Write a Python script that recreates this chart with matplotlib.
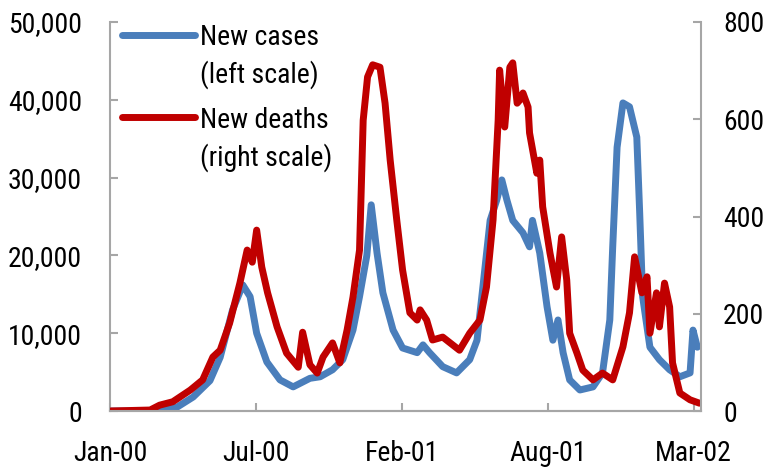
import matplotlib
matplotlib.use('Agg')
from matplotlib import pyplot as plt

# days since start of series (tick every 200 days)
CASE_DAYS = [0, 55, 68, 92, 114, 137, 151, 168, 182, 192, 201, 215, 233, 251, 274, 288,
             305, 319, 333, 342, 352, 358, 366, 374, 388, 401, 421, 429, 438, 456, 475,
             493, 503, 511, 521, 530, 537, 544, 552, 566, 575, 579, 589, 599, 607, 614,
             621, 630, 644, 662, 675, 685, 689, 695, 703, 712, 722, 726, 730, 740, 753,
             767, 781, 795, 799, 805]
CASES = [0, 0, 100, 500, 1800, 3900, 6900, 13000, 16200, 14700, 10000, 6300, 4000, 3100,
         4200, 4400, 5300, 6600, 10400, 14700, 20000, 26500, 20300, 15200, 10400, 8100,
         7500, 8500, 7500, 5700, 4900, 6600, 9100, 15900, 24500, 27100, 29700, 27100,
         24500, 22900, 21100, 24500, 20300, 13400, 9100, 11700, 7500, 4000, 2700, 3100,
         4900, 11700, 21100, 33900, 39600, 39100, 35200, 25400, 14700, 8200, 6600, 5300,
         4400, 4900, 10400, 8200]

DEATH_DAYS = [0, 55, 68, 86, 110, 127, 141, 151, 164, 178, 188, 195, 201, 208, 216, 229,
              242, 258, 264, 274, 284, 292, 305, 315, 325, 333, 342, 347, 353, 360, 370,
              377, 384, 393, 401, 411, 421, 425, 434, 442, 456, 479, 493, 507, 516, 525,
              532, 534, 541, 548, 552, 558, 562, 566, 573, 575, 585, 589, 593, 603, 612,
              619, 626, 630, 640, 648, 662, 675, 689, 703, 712, 719, 729, 736, 740, 749,
              753, 760, 767, 771, 781, 795, 808]
DEATHS = [0, 2, 12, 19, 43, 64, 111, 125, 181, 263, 331, 306, 372, 296, 243, 173, 119, 90,
          162, 95, 78, 111, 140, 99, 167, 234, 331, 598, 687, 712, 707, 633, 516, 393, 290,
          202, 187, 208, 187, 146, 152, 125, 160, 187, 255, 393, 598, 701, 584, 707, 716,
          633, 640, 654, 625, 572, 489, 516, 420, 325, 255, 358, 269, 160, 119, 84, 64, 78,
          64, 132, 202, 317, 243, 276, 160, 243, 173, 263, 214, 99, 37, 23, 16]

TICK_DAYS = [0, 200, 400, 600, 800]
TICK_LABELS = ['Jan-00', 'Jul-00', 'Feb-01', 'Aug-01', 'Mar-02']

BLUE = '#4a7ebb'
RED = '#c00000'
GREY = '#a6a6a6'
LW = 5

plt.rcParams['font.family'] = ['Roboto Condensed', 'Archivo Narrow', 'Liberation Sans', 'DejaVu Sans']
FS = 20

fig = plt.figure(figsize=(7.69, 4.68), dpi=100)
ax = fig.add_axes([110 / 769, 1 - 411 / 468, 591 / 769, 389 / 468])
ax2 = ax.twinx()

ax.plot(CASE_DAYS, CASES, color=BLUE, lw=LW, solid_joinstyle='round', solid_capstyle='round')
ax2.plot(DEATH_DAYS, DEATHS, color=RED, lw=LW, solid_joinstyle='round', solid_capstyle='round')

ax.set_xlim(0, 810)
ax.set_ylim(0, 50000)
ax2.set_ylim(0, 800)
ax.set_xticks(TICK_DAYS)
ax.set_xticklabels(TICK_LABELS)
ax.set_yticks(range(0, 50001, 10000))
ax.set_yticklabels([f'{v:,}' for v in range(0, 50001, 10000)])
ax2.set_yticks(range(0, 801, 200))

for a in (ax, ax2):
    a.spines['top'].set_visible(False)
    for s in ('left', 'right', 'bottom'):
        a.spines[s].set_color(GREY)
        a.spines[s].set_linewidth(1.5)
    a.tick_params(direction='in', length=6, width=1.5, color=GREY, labelsize=FS)
ax.tick_params(axis='y', pad=20)
ax.tick_params(axis='x', pad=21)
ax2.tick_params(axis='y', pad=16)
ax2.spines['left'].set_visible(False)
ax.spines['right'].set_visible(False)

# legend drawn by hand so the handle sits on the first text line
ax.plot([0.02, 0.144], [0.967, 0.967], transform=ax.transAxes, color=BLUE, lw=LW,
        solid_capstyle='round', clip_on=False)
ax.plot([0.02, 0.144], [0.756, 0.756], transform=ax.transAxes, color=RED, lw=LW,
        solid_capstyle='round', clip_on=False)
for y, txt in [(0.941, 'New cases'), (0.843, '(left scale)'),
               (0.7275, 'New deaths'), (0.632, '(right scale)')]:
    ax.text(0.152, y, txt, transform=ax.transAxes, fontsize=FS, va='baseline', ha='left')

plt.savefig('out.png', dpi=100)
